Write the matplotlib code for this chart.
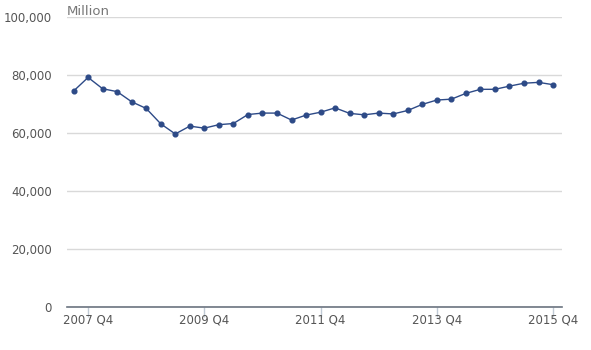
import matplotlib.pyplot as plt

# Quarterly values (million), 2007 Q3 to 2015 Q4
quarters = []
for year in range(2007, 2016):
    for q in range(1, 5):
        if year == 2007 and q < 3:
            continue
        quarters.append(f"{year} Q{q}")

values = [74500, 79200, 75300, 74300, 70800, 68500, 63200, 59700,
          62400, 61700, 62900, 63300, 66400, 66900, 66900, 64500,
          66200, 67200, 68700, 66800, 66300, 66900, 66600, 67800,
          69900, 71400, 71700, 73700, 75100, 75100, 76200, 77200,
          77500, 76700]

tick_labels = ["2007 Q4", "2009 Q4", "2011 Q4", "2013 Q4", "2015 Q4"]
y_ticks = [0, 20000, 40000, 60000, 80000, 100000]

fig = plt.figure(figsize=(5.91, 3.5), dpi=100)
ax = fig.add_axes([0.1134, 0.1229, 0.8376, 0.8281])

x = list(range(len(values)))
ax.plot(x, values, color='#2d4a87', linewidth=1, marker='o', markersize=3.4, zorder=3)

ax.set_ylim(0, 100000)
ax.set_xlim(-0.45, len(values) - 1 + 0.62)
ax.set_yticks(y_ticks)
ax.set_yticklabels([f"{v:,}" for v in y_ticks])
ax.grid(axis='y', color='#d9d9d9', linewidth=1)
ax.set_axisbelow(True)

tick_pos = [quarters.index(t) for t in tick_labels]
ax.set_xticks(tick_pos)
ax.set_xticklabels(tick_labels)

for side in ['top', 'right', 'left']:
    ax.spines[side].set_visible(False)
ax.spines['bottom'].set_color('#6b7480')
ax.spines['bottom'].set_linewidth(1.2)

ax.tick_params(axis='y', length=0, pad=11, labelsize=8.5, labelcolor='#555555')
ax.tick_params(axis='x', length=7.5, width=1, color='#c0cad5', pad=-2.5,
               labelsize=8.5, labelcolor='#555555')

ax.text(0, 0.998, "Million", transform=ax.transAxes, fontsize=9.5,
        color='#777777', ha='left', va='bottom')

fig.savefig("out.png", dpi=100)
